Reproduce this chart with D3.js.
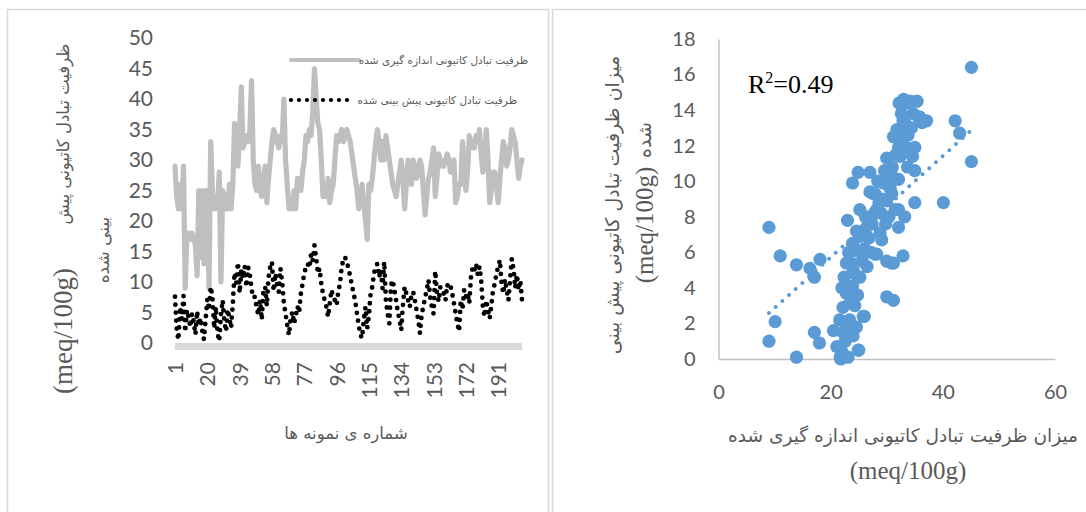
<!DOCTYPE html>
<html>
<head>
<meta charset="utf-8">
<script src="https://cdn.jsdelivr.net/npm/d3@7"></script>
<style>
  html, body { margin: 0; padding: 0; background: #fff; }
  svg { display: block; }
</style>
</head>
<body>
<svg id="chart" width="1086" height="512"></svg>
<script>
// ---- Left panel: CEC per sample ----
const sampleCount = 205;
const sampleTicks = [1, 20, 39, 58, 77, 96, 115, 134, 153, 172, 191];
const leftYTicks = [0, 5, 10, 15, 20, 25, 30, 35, 40, 45, 50];
const seriesNames = [
  "ظرفیت تبادل کاتیونی اندازه گیری شده",
  "ظرفیت تبادل کاتیونی پیش بینی شده"
];

// measured CEC (meq/100g), samples 1..205
const measuredCEC = [
  29, 24, 22, 26, 22, 29, 9, 18, 18, 17,
  18, 17, 16, 11, 25, 14, 25, 13, 25, 25,
  9, 33, 25, 22, 24, 22, 28, 10, 25, 24,
  22, 22, 26, 22, 26, 36, 33, 29, 35, 42,
  32, 33, 34, 33, 35, 43, 30, 26, 25, 29,
  25, 24, 27, 29, 23, 27, 30, 33, 35, 34,
  33, 32, 34, 33, 40, 30, 26, 22, 23, 22,
  25, 22, 27, 25, 25, 28, 30, 34, 33, 35,
  34, 38, 45, 40, 36, 35, 30, 24, 25, 24,
  27, 23, 25, 26, 30, 34, 33, 34, 35, 33,
  34, 35, 34, 33, 31, 29, 27, 25, 22, 24,
  26, 23, 20, 17, 26, 25, 27, 30, 33, 35,
  33, 30, 33, 30, 34, 32, 30, 28, 26, 25,
  24, 26, 28, 30, 27, 22, 26, 30, 29, 26,
  30, 29, 27, 28, 30, 29, 25, 21, 24, 27,
  28, 30, 32, 24, 27, 31, 30, 29, 29, 30,
  31, 30, 28, 29, 30, 23, 24, 26, 26, 33,
  30, 25, 28, 34, 33, 32, 32, 34, 33, 35,
  31, 28, 30, 35, 30, 23, 25, 28, 28, 26,
  23, 27, 30, 33, 32, 29, 30, 32, 35, 34,
  33, 30, 27, 29, 30
];

// predicted CEC (meq/100g), samples 1..205
const predictedCEC = [
  7.6, 2.2, 0.5, 5.9, 3.9, 7.7, 1.8, 5.4, 4.2, 2.6,
  4.8, 3.5, 1.4, 5.2, 2.9, 4.1, 2.1, 0.6, 3.8, 7.2,
  5.4, 9.2, 7.6, 2.4, 5.9, 1.6, 0.3, 4.6, 7.0, 3.6,
  1.9, 5.5, 4.0, 2.5, 6.5, 11.5, 9.8, 13.2, 8.2, 12.0,
  10.6, 12.6, 9.2, 12.4, 11.2, 8.9, 7.4, 7.6, 5.8, 4.6,
  7.0, 3.8, 8.7, 9.2, 6.1, 10.8, 12.5, 13.3, 8.5, 11.4,
  9.7, 8.4, 12.2, 10.0, 6.5, 4.8, 2.9, 1.3, 4.0, 5.1,
  3.2, 4.4, 6.0, 5.0, 8.1, 9.7, 11.4, 12.5, 13.0, 12.3,
  14.6, 13.5, 16.0, 14.0, 11.4, 12.2, 9.7, 8.1, 7.0, 5.9,
  4.3, 6.5, 8.7, 7.6, 7.0, 6.2, 8.4, 9.7, 12.5, 13.6,
  14.1, 13.0, 12.4, 10.8, 9.5, 8.1, 6.8, 4.8, 2.9, 1.3,
  0.8, 3.8, 5.9, 2.4, 4.5, 8.1, 9.2, 11.4, 12.5, 13.0,
  10.8, 12.0, 9.0, 13.3, 7.0, 4.8, 3.2, 9.5, 10.3, 8.7,
  7.0, 5.1, 3.8, 2.1, 6.2, 9.2, 8.1, 7.0, 5.9, 7.8,
  8.4, 7.0, 5.4, 3.8, 1.6, 4.6, 6.0, 7.4, 8.7, 10.3,
  7.6, 5.9, 4.8, 11.8, 8.2, 6.8, 9.2, 8.7, 8.1, 7.0,
  9.6, 8.9, 9.3, 8.1, 6.5, 4.8, 3.2, 1.9, 7.0, 5.5,
  8.7, 7.6, 8.2, 6.5, 10.8, 12.5, 11.9, 13.0, 11.2, 12.5,
  10.3, 5.9, 4.3, 7.0, 5.4, 4.0, 6.2, 8.7, 9.7, 11.4,
  12.5, 13.6, 9.7, 8.1, 10.4, 8.7, 7.0, 10.3, 13.8, 12.2,
  9.0, 11.2, 8.7, 10.3, 7.0
];

// ---- Right panel: measured vs predicted ----
const scatterMeasured = [
  45.1, 45.1, 42.2, 43.0, 40.1, 35.0, 9.0, 11.0, 13.9, 16.3,
  18.1, 17.1, 10.1, 9.0, 13.9, 17.1, 18.0, 30.0, 31.2, 26.0,
  25.0, 21.8, 24.9, 27.0, 23.9, 23.0, 32.9, 30.9, 30.0, 27.9,
  31.2, 20.5, 22.2, 21.7, 23.1, 24.9, 21.1, 24.0, 25.8, 24.6,
  22.2, 22.8, 22.0, 23.9, 25.2, 23.7, 22.8, 24.6, 23.9, 25.2,
  24.6, 26.4, 25.2, 28.2, 30.0, 27.6, 29.4, 27.0, 28.8, 28.2,
  32.1, 33.2, 32.1, 23.4, 22.6, 23.5, 24.3, 24.8, 24.2, 25.6,
  26.0, 26.8, 27.4, 26.2, 27.8, 28.6, 29.2, 28.4, 29.6, 30.6,
  31.0, 30.0, 30.9, 32.4, 33.5, 35.0, 35.0, 32.4, 32.9, 34.7,
  37.1, 35.9, 33.5, 32.2, 33.0, 34.2, 35.4, 36.3, 35.7, 31.2,
  32.1, 33.4, 34.6, 33.7, 32.1, 30.9, 27.9, 31.5, 29.1, 29.8,
  30.4, 26.5, 27.2, 31.8, 32.6, 33.8, 34.4, 32.8, 31.6, 30.4,
  29.0, 25.8, 23.2, 24.0, 22.4, 21.6, 23.0, 22.0
];
const scatterPredicted = [
  16.4, 11.1, 13.4, 12.7, 8.8, 8.8, 7.4, 5.8, 5.3, 5.1,
  5.6, 4.6, 2.1, 1.0, 0.1, 1.5, 0.9, 3.5, 3.3, 2.4,
  0.5, 0.0, 10.5, 10.5, 9.9, 7.8, 5.8, 5.4, 5.5, 5.9,
  5.4, 1.6, 1.5, 0.1, 0.1, 0.5, 0.7, 1.3, 2.4, 1.8,
  2.9, 3.7, 4.0, 4.1, 4.6, 5.4, 5.4, 6.1, 6.5, 6.9,
  7.2, 7.4, 8.4, 8.4, 8.9, 9.3, 9.9, 9.4, 7.1, 5.9,
  7.4, 8.0, 8.4, 2.2, 1.0, 3.2, 3.0, 3.6, 4.8, 5.5,
  6.2, 6.8, 7.6, 8.0, 8.2, 8.8, 9.0, 10.0, 10.6, 9.6,
  10.8, 11.3, 10.3, 12.5, 11.9, 11.9, 10.6, 11.4, 13.4, 13.8,
  13.4, 13.6, 14.4, 14.4, 14.6, 14.5, 14.5, 13.3, 13.6, 12.5,
  11.9, 13.2, 11.4, 10.8, 10.1, 9.3, 9.3, 8.4, 6.7, 7.6,
  8.0, 5.2, 6.0, 12.9, 13.8, 12.6, 13.0, 12.2, 11.5, 10.4,
  8.2, 7.2, 6.0, 5.0, 4.6, 2.2, 1.8, 0.4
];
const rightXTicks = [0, 20, 40, 60];
const rightYTicks = [0, 2, 4, 6, 8, 10, 12, 14, 16, 18];
// linear trendline fitted to the scatter
const trendSlope = 0.285;
const trendIntercept = 0.02;
const rSquared = 0.49;

const TEXT = "#595959";
const NUM_FONT = "Lato, 'Open Sans', sans-serif";
const FA_FONT = "'DejaVu Sans', sans-serif";
const SERIF = "'Liberation Serif', 'DejaVu Serif', serif";

const svg = d3.select("#chart");
svg.append("rect").attr("width", 1086).attr("height", 512).attr("fill", "#fff");

// panel frames
svg.append("rect").attr("x", 7.5).attr("y", 9.5).attr("width", 541).attr("height", 530)
  .attr("fill", "none").attr("stroke", "#d9d9d9").attr("stroke-width", 1.5);
svg.append("rect").attr("x", 552.5).attr("y", 9.5).attr("width", 545).attr("height", 530)
  .attr("fill", "none").attr("stroke", "#d9d9d9").attr("stroke-width", 1.5);

// ================= left panel =================
const xL = d3.scalePoint().domain(d3.range(1, sampleCount + 1)).range([175, 522]);
const yL = d3.scaleLinear().domain([0, 50]).range([343, 38]);

// horizontal category axis (thick light band)
svg.append("line")
  .attr("x1", xL(1)).attr("x2", xL(sampleCount))
  .attr("y1", yL(0) + 3.5).attr("y2", yL(0) + 3.5)
  .attr("stroke", "#d9d9d9").attr("stroke-width", 7);

const gyL = svg.append("g").attr("transform", "translate(163,0)")
  .call(d3.axisLeft(yL).tickValues(leftYTicks).tickSize(0).tickPadding(10));
gyL.select(".domain").remove();
gyL.selectAll("text").attr("font-family", NUM_FONT).attr("font-size", 21).attr("fill", TEXT);

const gxL = svg.append("g").attr("transform", `translate(0,${yL(0)})`)
  .call(d3.axisBottom(xL).tickValues(sampleTicks).tickSize(0));
gxL.select(".domain").remove();
gxL.selectAll("text")
  .attr("transform", "rotate(-90)")
  .attr("text-anchor", "end")
  .attr("x", -19).attr("y", 0).attr("dy", "0.36em")
  .attr("font-family", NUM_FONT).attr("font-size", 21).attr("fill", TEXT);

// measured series
const lineL = d3.line().x((d, i) => xL(i + 1)).y(d => yL(d));
svg.append("path").datum(measuredCEC)
  .attr("d", lineL)
  .attr("fill", "none").attr("stroke", "#bfbfbf").attr("stroke-width", 5.2)
  .attr("stroke-linejoin", "round").attr("stroke-linecap", "round");

// predicted series (round-dot line)
svg.append("path").datum(predictedCEC)
  .attr("d", lineL)
  .attr("fill", "none").attr("stroke", "#000").attr("stroke-width", 4.8)
  .attr("stroke-dasharray", "0 8").attr("stroke-linecap", "round");

// legend
const legend = svg.append("g");
legend.append("line").attr("x1", 291).attr("x2", 359).attr("y1", 60).attr("y2", 60)
  .attr("stroke", "#bfbfbf").attr("stroke-width", 4).attr("stroke-linecap", "round");
legend.append("line").attr("x1", 291).attr("x2", 355).attr("y1", 100).attr("y2", 100)
  .attr("stroke", "#000").attr("stroke-width", 4.2)
  .attr("stroke-dasharray", "0 8").attr("stroke-linecap", "round");
legend.append("text").attr("x", 528).attr("y", 60).attr("dy", "0.35em")
  .attr("text-anchor", "end").attr("font-family", FA_FONT).attr("font-size", 10.5)
  .attr("fill", TEXT).text(seriesNames[0]);
legend.append("text").attr("x", 517).attr("y", 100).attr("dy", "0.35em")
  .attr("text-anchor", "end").attr("font-family", FA_FONT).attr("font-size", 10.5)
  .attr("fill", TEXT).text(seriesNames[1]);

// left axis titles
svg.append("text").attr("transform", "translate(63,134) rotate(-90)")
  .attr("text-anchor", "middle").attr("dominant-baseline", "central")
  .attr("font-family", FA_FONT).attr("font-size", 16.5).attr("fill", TEXT)
  .text("ظرفیت تبادل کاتیونی پیش");
svg.append("text").attr("transform", "translate(63,331) rotate(-90)")
  .attr("text-anchor", "middle").attr("dominant-baseline", "central")
  .attr("font-family", SERIF).attr("font-size", 27).attr("fill", TEXT)
  .text("(meq/100g)");
svg.append("text").attr("transform", "translate(103,250) rotate(-90)")
  .attr("text-anchor", "middle").attr("dominant-baseline", "central")
  .attr("font-family", FA_FONT).attr("font-size", 17).attr("fill", TEXT)
  .text("بینی شده");
svg.append("text").attr("x", 346).attr("y", 433)
  .attr("text-anchor", "middle").attr("dominant-baseline", "central")
  .attr("font-family", FA_FONT).attr("font-size", 16.5).attr("fill", TEXT)
  .text("شماره ی نمونه ها");

// ================= right panel =================
const xR = d3.scaleLinear().domain([0, 60]).range([718.5, 1055]);
const yR = d3.scaleLinear().domain([0, 18]).range([359, 39]);

const gxR = svg.append("g").attr("transform", `translate(0,${yR(0)})`)
  .call(d3.axisBottom(xR).tickValues(rightXTicks).tickSize(0).tickSizeOuter(0).tickPadding(26));
gxR.select(".domain").attr("stroke", "#bfbfbf").attr("stroke-width", 1.5);
gxR.selectAll("text").attr("font-family", NUM_FONT).attr("font-size", 20).attr("fill", TEXT);

const gyR = svg.append("g").attr("transform", `translate(${xR(0)},0)`)
  .call(d3.axisLeft(yR).tickValues(rightYTicks).tickSize(0).tickSizeOuter(0).tickPadding(23));
gyR.select(".domain").attr("stroke", "#bfbfbf").attr("stroke-width", 1.5);
gyR.selectAll("text").attr("font-family", NUM_FONT).attr("font-size", 20).attr("fill", TEXT);

// trendline (under the markers)
const xExt = d3.extent(scatterMeasured);
svg.append("path")
  .datum(xExt.map(x => [x, trendIntercept + trendSlope * x]))
  .attr("d", d3.line().x(d => xR(d[0])).y(d => yR(d[1])))
  .attr("fill", "none").attr("stroke", "#5b9bd5").attr("stroke-width", 4)
  .attr("stroke-dasharray", "0 9").attr("stroke-linecap", "round");

// markers
svg.append("g").selectAll("circle")
  .data(scatterMeasured.map((m, i) => [m, scatterPredicted[i]]))
  .join("circle")
  .attr("cx", d => xR(d[0])).attr("cy", d => yR(d[1])).attr("r", 6.6)
  .attr("fill", "#5b9bd5");

// R² annotation
const r2 = svg.append("text").attr("x", 748).attr("y", 93)
  .attr("font-family", SERIF).attr("font-size", 26).attr("fill", "#000");
r2.append("tspan").text("R");
r2.append("tspan").attr("font-size", 16).attr("dy", -10).text("2");
r2.append("tspan").attr("dy", 10).text("=" + rSquared.toFixed(2));

// right axis titles
svg.append("text").attr("transform", "translate(612,205) rotate(-90)")
  .attr("text-anchor", "middle").attr("dominant-baseline", "central")
  .attr("font-family", FA_FONT).attr("font-size", 19).attr("fill", TEXT)
  .text("میزان ظرفیت تبادل کاتیونی پیش بینی");
svg.append("text").attr("transform", "translate(644,140) rotate(-90)")
  .attr("text-anchor", "middle").attr("dominant-baseline", "central")
  .attr("font-family", FA_FONT).attr("font-size", 19).attr("fill", TEXT)
  .text("شده");
svg.append("text").attr("transform", "translate(644,225) rotate(-90)")
  .attr("text-anchor", "middle").attr("dominant-baseline", "central")
  .attr("font-family", SERIF).attr("font-size", 25).attr("fill", TEXT)
  .text("(meq/100g)");
svg.append("text").attr("x", 903).attr("y", 435)
  .attr("text-anchor", "middle").attr("dominant-baseline", "central")
  .attr("font-family", FA_FONT).attr("font-size", 18.6).attr("fill", TEXT)
  .text("میزان ظرفیت تبادل کاتیونی اندازه گیری شده");
svg.append("text").attr("x", 908).attr("y", 470)
  .attr("text-anchor", "middle").attr("dominant-baseline", "central")
  .attr("font-family", SERIF).attr("font-size", 25).attr("fill", TEXT)
  .text("(meq/100g)");
</script>
</body>
</html>
